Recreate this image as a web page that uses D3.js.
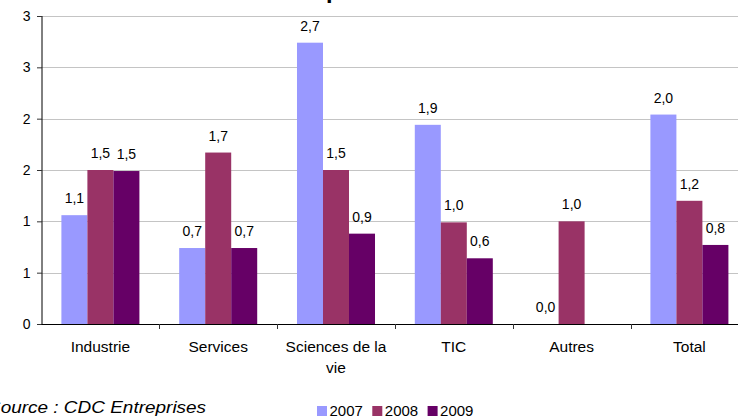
<!DOCTYPE html>
<html>
<head>
<meta charset="utf-8">
<script src="https://cdn.jsdelivr.net/npm/d3@7"></script>
<style>
  html, body { margin: 0; padding: 0; background: #fff; overflow: hidden; }
  svg { display: block; font-family: "Liberation Sans", Arial, sans-serif; }
</style>
</head>
<body>
<svg id="chart" width="738" height="417"></svg>
<script>
// Categories, series and values
const categories = ["Industrie", "Services", "Sciences de la vie", "TIC", "Autres", "Total"];
const categoryLines = [["Industrie"], ["Services"], ["Sciences de la", "vie"], ["TIC"], ["Autres"], ["Total"]];
const years = ["2007", "2008", "2009"];
const values2007 = [1.06, 0.74, 2.74, 1.94, 0.0, 2.04];
const values2008 = [1.50, 1.67, 1.50, 0.99, 1.00, 1.20];
const values2009 = [1.49, 0.74, 0.88, 0.64, null, 0.77];
const yTicks = [0, 0.5, 1, 1.5, 2, 2.5, 3];
const colors = ["#9999FF", "#993366", "#660066"];
const titleText = "par secteur d'activité";
const sourceText = "Source : CDC Entreprises";

const series = [values2007, values2008, values2009];

const svg = d3.select("#chart");
const plotLeft = 41.5, plotTop = 16, plotBottom = 324;
const catStep = 117.8;
const plotRight = plotLeft + catStep * categories.length;

const x0 = d3.scaleBand().domain(categories).range([plotLeft, plotRight]).paddingInner(0).paddingOuter(0);
const x1 = d3.scaleBand().domain(years).range([0, x0.bandwidth()]).paddingInner(0).paddingOuter(0.765);
const y = d3.scaleLinear().domain([0, 3]).range([plotBottom, plotTop]);

// Title (runs off the top edge)
svg.append("text")
  .attr("x", 326).attr("y", -1)
  .attr("font-size", 21).attr("font-weight", "bold")
  .attr("textLength", 236).attr("lengthAdjust", "spacingAndGlyphs")
  .attr("fill", "#000")
  .text(titleText);

// Grid lines
svg.append("g").selectAll("line")
  .data(yTicks.filter(d => d > 0))
  .join("line")
  .attr("x1", plotLeft).attr("x2", 738)
  .attr("y1", d => Math.round(y(d)) + 0.5).attr("y2", d => Math.round(y(d)) + 0.5)
  .attr("stroke", "#c4c4c4").attr("stroke-width", 1);

// Bars with value labels
const groups = svg.append("g").selectAll("g")
  .data(categories)
  .join("g")
  .attr("transform", d => `translate(${x0(d)},0)`);

groups.each(function(cat, ci) {
  const g = d3.select(this);
  years.forEach((yr, si) => {
    const v = series[si][ci];
    if (v === null) return;
    g.append("rect")
      .attr("x", x1(yr)).attr("width", x1.bandwidth())
      .attr("y", y(v)).attr("height", y(0) - y(v))
      .attr("fill", colors[si]);
    g.append("text")
      .attr("x", x1(yr) + x1.bandwidth() / 2)
      .attr("y", y(v) - 12)
      .attr("text-anchor", "middle")
      .attr("font-size", 14).attr("fill", "#000")
      .text(v.toFixed(1).replace(".", ","));
  });
});

// Y axis
const yAxis = d3.axisLeft(y).tickValues(yTicks).tickSize(5).tickPadding(6)
  .tickFormat(d => Math.round(d));
const gy = svg.append("g").attr("transform", `translate(${plotLeft},0)`).call(yAxis);
gy.select(".domain").attr("stroke", "#000").attr("d", `M0.5,${plotTop}V${plotBottom}`);
gy.selectAll(".tick line").attr("stroke", "#333").attr("x1", 0.5).attr("x2", -4.5);
gy.selectAll(".tick text").attr("font-size", 14).attr("fill", "#000")
  .attr("font-family", "Liberation Sans, Arial, sans-serif");

// X axis baseline and category dividers
svg.append("line")
  .attr("x1", plotLeft).attr("x2", 738)
  .attr("y1", plotBottom + 0.5).attr("y2", plotBottom + 0.5)
  .attr("stroke", "#000");
svg.append("g").selectAll("line")
  .data(d3.range(1, categories.length))
  .join("line")
  .attr("x1", i => Math.round(plotLeft + i * catStep) + 0.5)
  .attr("x2", i => Math.round(plotLeft + i * catStep) + 0.5)
  .attr("y1", plotBottom).attr("y2", plotBottom + 5)
  .attr("stroke", "#333");

// Category labels
svg.append("g").selectAll("text")
  .data(categories)
  .join("text")
  .attr("text-anchor", "middle")
  .attr("font-size", 15.5).attr("fill", "#000")
  .attr("x", d => x0(d) + x0.bandwidth() / 2)
  .attr("y", 352)
  .each(function(d, i) {
    const t = d3.select(this);
    categoryLines[i].forEach((line, li) => {
      t.append("tspan")
        .attr("x", x0(d) + x0.bandwidth() / 2)
        .attr("dy", li === 0 ? 0 : 21)
        .text(line);
    });
  });

// Source note (starts just past the left edge)
svg.append("text")
  .attr("transform", "translate(-12,413) scale(1.15,1)")
  .attr("font-size", 16.5).attr("font-style", "italic").attr("fill", "#000")
  .text(sourceText);

// Legend
const legend = svg.append("g").attr("transform", "translate(317,406)");
years.forEach((yr, i) => {
  const lx = i * 55.3;
  legend.append("rect").attr("x", lx).attr("y", 0).attr("width", 10).attr("height", 10).attr("fill", colors[i]);
  legend.append("text").attr("x", lx + 12.5).attr("y", 9.5)
    .attr("font-size", 15).attr("fill", "#000").text(yr);
});
</script>
</body>
</html>
